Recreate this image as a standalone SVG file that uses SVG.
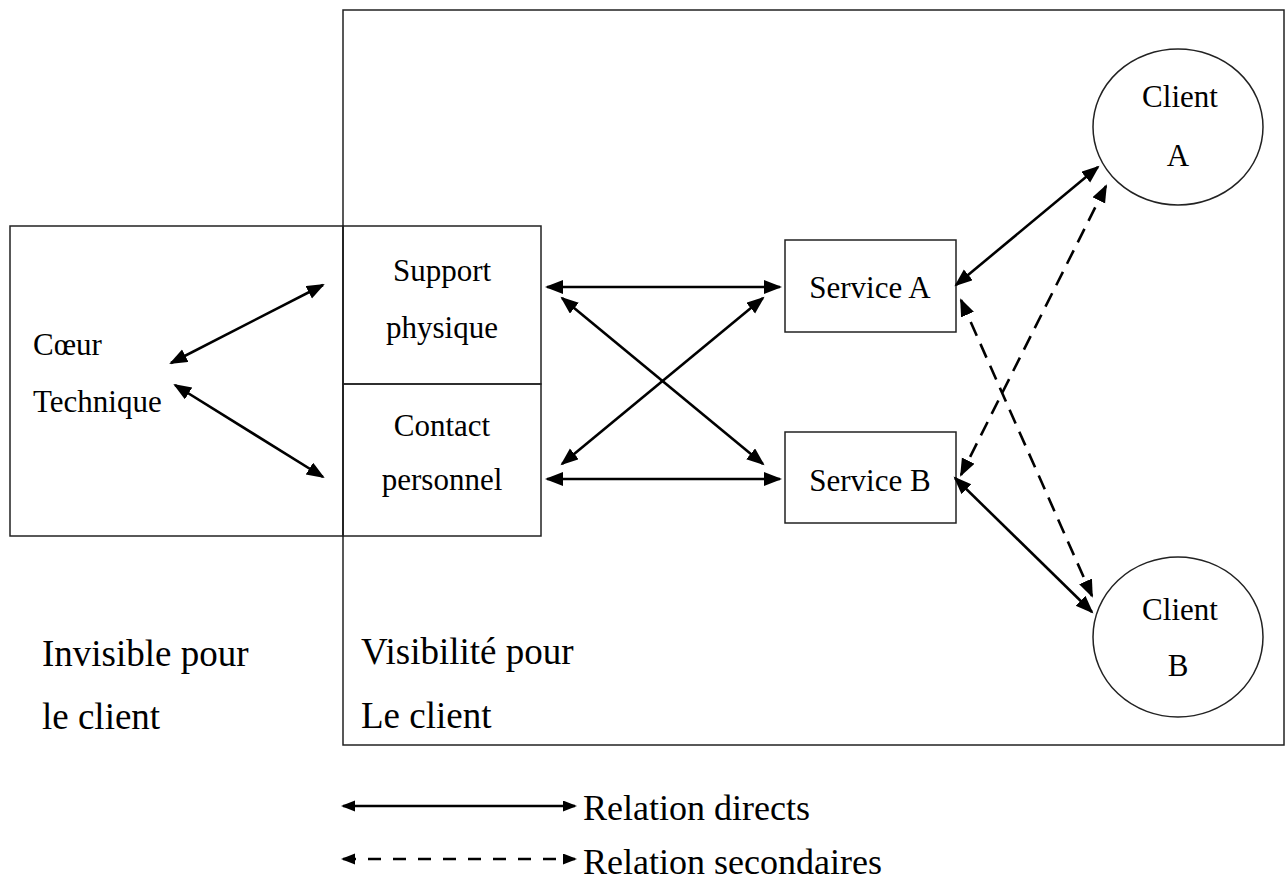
<svg xmlns="http://www.w3.org/2000/svg" width="1287" height="887" viewBox="0 0 1287 887">
  <style>
    .box { fill: none; stroke: #222; stroke-width: 1.5; }
    .node { fill: #fff; stroke: #222; stroke-width: 1.5; }
    .t { font-family: "Liberation Serif", "Times New Roman", serif; font-size: 31px; fill: #000; }
    .tc { text-anchor: middle; }
    .big { font-size: 37px; }
    .leg { font-size: 36px; }
    .rel { fill: none; stroke: #000; stroke-width: 2.6; marker-start: url(#head); marker-end: url(#head); }
    .sec { stroke-dasharray: 15 9; }
    .legline { fill: none; stroke: #000; stroke-width: 2.5; marker-start: url(#headS); marker-end: url(#headS); }
    .legsec { stroke-dasharray: 13 12; }
  </style>
  <defs>
    <marker id="head" markerUnits="userSpaceOnUse" markerWidth="20" markerHeight="16" refX="16" refY="7" orient="auto-start-reverse">
      <path d="M0,0 L18,7 L0,14 z" fill="#000"/>
    </marker>
    <marker id="headS" markerUnits="userSpaceOnUse" markerWidth="16" markerHeight="13" refX="12" refY="5.5" orient="auto-start-reverse">
      <path d="M0,0 L14,5.5 L0,11 z" fill="#000"/>
    </marker>
  </defs>
  <rect width="1287" height="887" fill="#fff"/>

  <!-- zones: visible to the client (large frame) and hidden core -->
  <g id="zone-visible">
    <rect class="box" x="343" y="10" width="941" height="735"/>
  </g>
  <g id="coeur-technique">
    <rect class="box" x="10" y="226" width="333" height="310"/>
    <text class="t" x="33" y="355">Cœur</text>
    <text class="t" x="33" y="412">Technique</text>
  </g>
  <g id="support-physique">
    <rect class="box" x="343" y="226" width="198" height="158"/>
    <text class="t tc" x="442" y="281">Support</text>
    <text class="t tc" x="442" y="338">physique</text>
  </g>
  <g id="contact-personnel">
    <rect class="box" x="343" y="384" width="198" height="152"/>
    <text class="t tc" x="442" y="436">Contact</text>
    <text class="t tc" x="442" y="490">personnel</text>
  </g>
  <g id="service-a">
    <rect class="node" x="785" y="240" width="171" height="92"/>
    <text class="t tc" x="870" y="298">Service A</text>
  </g>
  <g id="service-b">
    <rect class="node" x="785" y="432" width="171" height="91"/>
    <text class="t tc" x="870" y="491">Service B</text>
  </g>
  <g id="client-a">
    <ellipse class="node" cx="1178" cy="127" rx="85" ry="78"/>
    <text class="t tc" x="1180" y="107">Client</text>
    <text class="t tc" x="1178" y="166">A</text>
  </g>
  <g id="client-b">
    <ellipse class="node" cx="1178" cy="637" rx="85" ry="80"/>
    <text class="t tc" x="1180" y="620">Client</text>
    <text class="t tc" x="1178" y="676">B</text>
  </g>

  <!-- zone labels -->
  <g id="labels">
    <text class="t big" x="42" y="666">Invisible pour</text>
    <text class="t big" x="42" y="729">le client</text>
    <text class="t big" x="361" y="664">Visibilité pour</text>
    <text class="t big" x="361" y="728">Le client</text>
  </g>

  <!-- relations -->
  <g id="connectors">
    <line class="rel" x1="171" y1="363" x2="323" y2="285"/>
    <line class="rel" x1="175" y1="385" x2="323" y2="477"/>
    <line class="rel" x1="547" y1="287" x2="780" y2="287"/>
    <line class="rel" x1="547" y1="479" x2="780" y2="479"/>
    <line class="rel" x1="562" y1="298" x2="763" y2="464"/>
    <line class="rel" x1="763" y1="298" x2="562" y2="464"/>
    <line class="rel" x1="956" y1="285" x2="1098" y2="167"/>
    <line class="rel" x1="955" y1="478" x2="1092" y2="612"/>
    <line class="rel sec" x1="961" y1="300" x2="1092" y2="596"/>
    <line class="rel sec" x1="1106" y1="186" x2="961" y2="475"/>
  </g>

  <!-- legend -->
  <g id="legend">
    <line class="legline" x1="343" y1="806" x2="575" y2="806"/>
    <line class="legline legsec" x1="343" y1="859" x2="575" y2="859"/>
    <text class="t leg" x="583" y="820">Relation directs</text>
    <text class="t leg" x="583" y="874">Relation secondaires</text>
  </g>
</svg>
